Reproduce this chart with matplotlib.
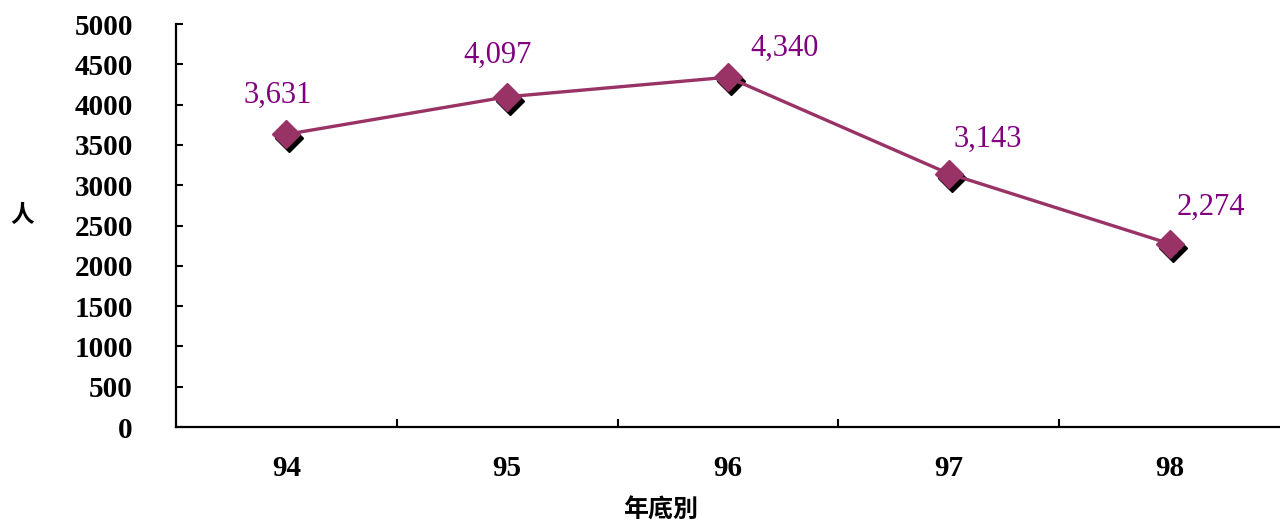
import matplotlib
matplotlib.use("Agg")
import matplotlib.pyplot as plt
import matplotlib.transforms as mtransforms

# data
years = ["94", "95", "96", "97", "98"]
persons = [3631, 4097, 4340, 3143, 2274]

# label offsets in points (layout only)
label_dx = [-6, -7, 41, 28, 30]
label_dy = [28, 30, 21, 25, 26]

fig = plt.figure(figsize=(12.8, 5.22), dpi=100)
ax = fig.add_axes([176 / 1280, 1 - 427 / 522, 1 - 176 / 1280, (427 - 24) / 522])

x = list(range(len(years)))
line_col = "#993366"
tick_font = dict(family="Liberation Serif", fontweight="bold", fontsize=21)

# black shadow behind markers
shadow = mtransforms.offset_copy(ax.transData, fig=fig, x=3, y=-4, units="dots")
ax.plot(x, persons, linestyle="none", marker="D", ms=14.5, color="black",
        transform=shadow, zorder=2)
ax.plot(x, persons, color=line_col, lw=2.4, marker="D", ms=14.5,
        mec=line_col, mfc=line_col, zorder=3)

for i, v in enumerate(persons):
    ax.annotate(f"{v:,}", (x[i], v), xytext=(label_dx[i], label_dy[i]),
                textcoords="offset points", ha="center", va="center",
                color="#800080", fontsize=22, family="Liberation Serif")

ax.set_xlim(-0.5, len(years) - 0.5)
ax.set_ylim(0, 5000)
ax.set_yticks(range(0, 5001, 500))
ax.set_yticklabels([str(t) for t in range(0, 5001, 500)], **tick_font)

# category ticks between groups, labels in the middle
ax.set_xticks([i + 0.5 for i in range(len(years) - 1)])
ax.set_xticklabels([])
ax.set_xticks(x, minor=True)
ax.set_xticklabels(years, minor=True, **tick_font)
ax.tick_params(axis="x", which="major", direction="in", length=6, width=1.5)
ax.tick_params(axis="x", which="minor", length=0, pad=20)
ax.tick_params(axis="y", direction="in", length=5, width=1.5, pad=31)

for s in ["top", "right"]:
    ax.spines[s].set_visible(False)
for s in ["left", "bottom"]:
    ax.spines[s].set_linewidth(1.6)
ax.spines["left"].set_bounds(0, 5000)

cjk = ["Noto Sans CJK TC", "DejaVu Sans"]
fig.text(22 / 1280, 1 - 215 / 522, "人", ha="center", va="center",
         family=cjk, fontweight="bold", fontsize=17)
fig.text(661 / 1280, 1 - 510 / 522, "年底別", ha="center", va="center",
         family=cjk, fontweight="bold", fontsize=18)

fig.savefig("out.png", dpi=100)
